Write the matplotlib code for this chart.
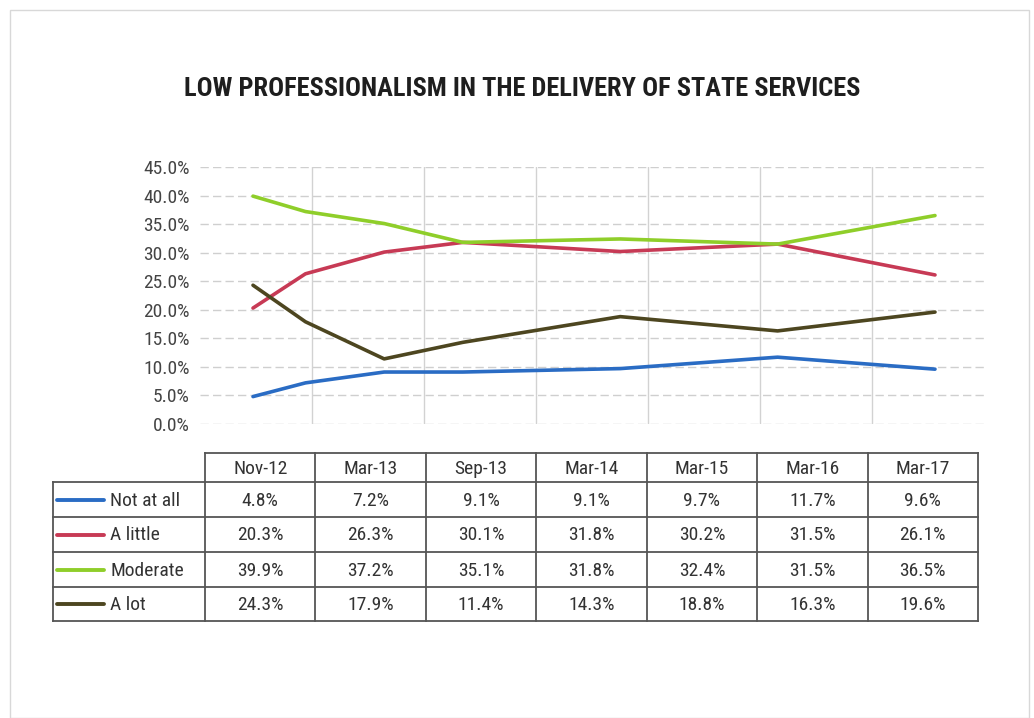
import numpy as np
import matplotlib
matplotlib.use("Agg")
import matplotlib.pyplot as plt
from matplotlib.patches import Rectangle

# data
periods = ["Nov-12", "Mar-13", "Sep-13", "Mar-14", "Mar-15", "Mar-16", "Mar-17"]
not_at_all = [4.8, 7.2, 9.1, 9.1, 9.7, 11.7, 9.6]
a_little = [20.3, 26.3, 30.1, 31.8, 30.2, 31.5, 26.1]
moderate = [39.9, 37.2, 35.1, 31.8, 32.4, 31.5, 36.5]
a_lot = [24.3, 17.9, 11.4, 14.3, 18.8, 16.3, 19.6]
series_names = ["Not at all", "A little", "Moderate", "A lot"]
colors = ["#2a6cc4", "#c73a55", "#8fce2a", "#4d4620"]

# month offsets from first survey (x axis is time based)
months = {"Jan": 1, "Feb": 2, "Mar": 3, "Apr": 4, "May": 5, "Jun": 6,
          "Jul": 7, "Aug": 8, "Sep": 9, "Oct": 10, "Nov": 11, "Dec": 12}
def to_month(p):
    m, y = p.split("-")
    return int(y) * 12 + months[m]
x = np.array([to_month(p) for p in periods])
x = x - x[0]

plt.rcParams['font.family'] = ['Roboto Condensed', 'Archivo Narrow', 'Barlow Semi Condensed', 'DejaVu Sans']
W, H = 1034, 718
fig = plt.figure(figsize=(W / 100, H / 100), dpi=100)
fig.patches.append(Rectangle((10 / W, 0), 1019 / W, 1 - 10 / H, transform=fig.transFigure,
                             fill=False, edgecolor="#d8d8d8", linewidth=1))

def fx(px):
    return px / W
def fy(py):
    return 1 - py / H

fig.text(fx(522), fy(89), "LOW PROFESSIONALISM IN THE DELIVERY OF STATE SERVICES",
         ha="center", va="center", fontsize=19, fontweight="bold", color="#1e1e1e")

# chart area
ax = fig.add_axes([fx(200), fy(424), (984 - 200) / W, (424 - 167) / H])
allvals = [not_at_all, a_little, moderate, a_lot]
for vals, c in zip(allvals, colors):
    ax.plot(x, vals, color=c, linewidth=2.6, solid_capstyle="round", zorder=3)

px_per_month = (935 - 253) / x[-1]
ax.set_xlim(-(253 - 200) / px_per_month, x[-1] + (984 - 935) / px_per_month)
ax.set_ylim(0, 45)
ax.set_yticks(np.arange(0, 46, 5))
ax.set_yticklabels(["%.1f%%" % v for v in np.arange(0, 46, 5)], fontsize=14, color="#444444")
ax.set_xticks([])
ax.tick_params(axis="y", length=0, pad=7.5)
for s in ax.spines.values():
    s.set_visible(False)
for v in np.arange(0, 46, 5):
    ax.axhline(v, color="#cfcfcf", linewidth=1, linestyle=(0, (6, 3)), zorder=1)
for v in np.linspace(*ax.get_xlim(), 8)[1:-1]:
    ax.axvline(v, color="#d2d2d2", linewidth=1, zorder=1)

# data table
tx = fig.add_axes([0, 0, 1, 1])
tx.set_xlim(0, W)
tx.set_ylim(H, 0)
tx.axis("off")
cols = np.concatenate([[53], np.linspace(205, 978, 8)])
rows = [453, 482, 517, 552, 587, 621]
lc = "#555555"
# header row (no cell for label column)
tx.plot([cols[1], cols[-1]], [rows[0], rows[0]], color=lc, lw=1.3)
tx.plot([cols[0], cols[-1]], [rows[-1], rows[-1]], color=lc, lw=1.3)
for r in rows[1:-1]:
    tx.plot([cols[0], cols[-1]], [r, r], color=lc, lw=1.3)
tx.plot([cols[0], cols[0]], [rows[1], rows[-1]], color=lc, lw=1.3)
for c in cols[1:]:
    tx.plot([c, c], [rows[0], rows[-1]], color=lc, lw=1.3)

for j, p in enumerate(periods):
    tx.text((cols[j + 1] + cols[j + 2]) / 2, (rows[0] + rows[1]) / 2 + 1, p,
            ha="center", va="center", fontsize=14, color="#333333")
for i, (name, vals, c) in enumerate(zip(series_names, allvals, colors)):
    yc = (rows[i + 1] + rows[i + 2]) / 2
    tx.plot([57, 104], [yc, yc], color=c, lw=2.8, solid_capstyle="round")
    tx.text(110, yc + 1, name, ha="left", va="center", fontsize=14, color="#333333")
    for j, v in enumerate(vals):
        tx.text((cols[j + 1] + cols[j + 2]) / 2, yc + 1, "%.1f%%" % v,
                ha="center", va="center", fontsize=14, color="#333333")

fig.savefig("out.png", dpi=100, facecolor="white")
